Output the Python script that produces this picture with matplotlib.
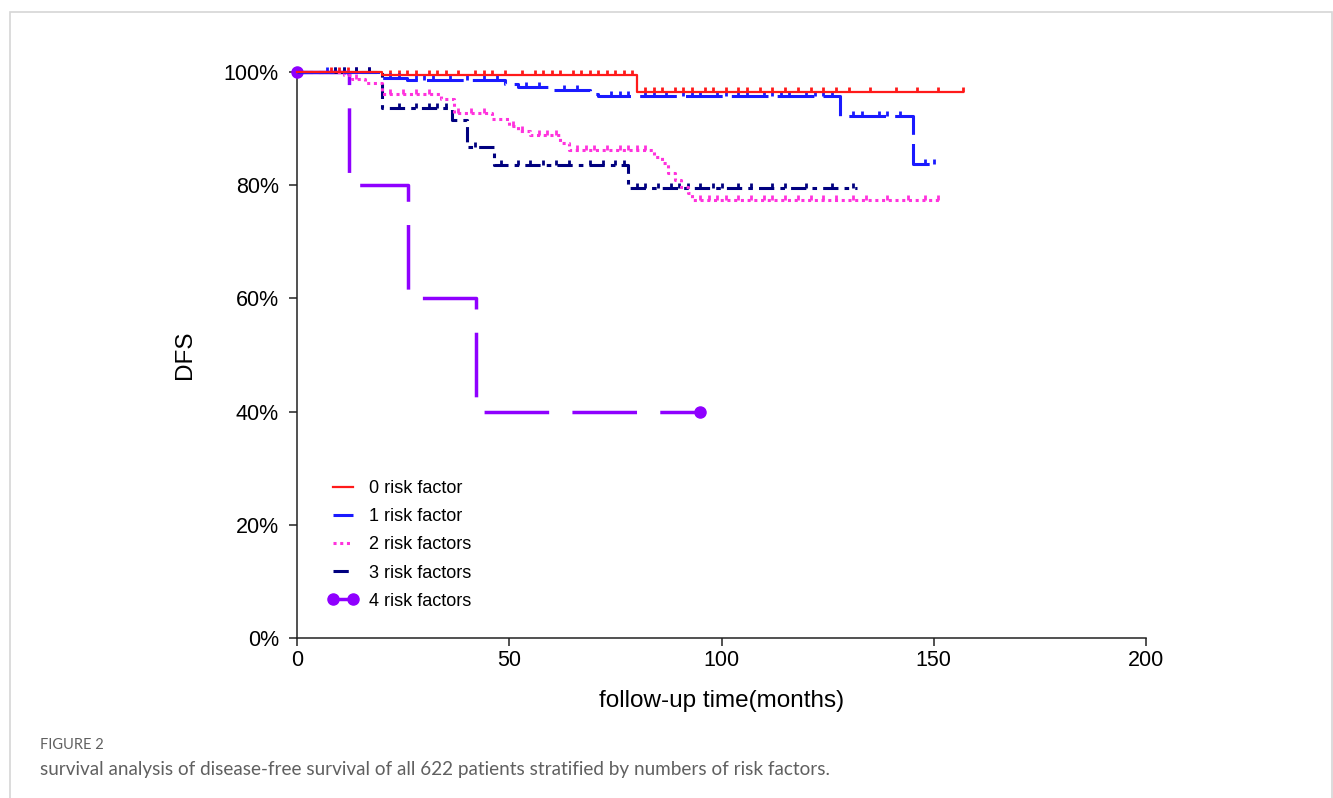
import numpy as np
import matplotlib
matplotlib.use("Agg")
import matplotlib.pyplot as plt
from matplotlib.ticker import PercentFormatter
from matplotlib.patches import Rectangle

plt.rcParams['font.family'] = ['Liberation Sans', 'DejaVu Sans']

# ---------------- data ----------------
labels = ["0 risk factor", "1 risk factor", "2 risk factors", "3 risk factors", "4 risk factors"]

t0 = [0, 20, 80]
s0 = [1.0, 0.994, 0.964]
end0 = 157
c0 = [8, 10, 12, 14, 17, 22, 24, 26, 28, 31, 33, 35, 38, 42, 44, 46, 49, 53, 56, 58, 60, 62,
      65, 67, 69, 71, 73, 75, 77, 79, 82, 84, 86, 89, 91, 93, 96, 98, 101, 104, 106, 109,
      112, 115, 118, 121, 124, 127, 130, 135, 141, 146, 151, 157]

t1 = [0, 20, 26, 49, 52, 60, 69, 71, 128, 145]
s1 = [1.0, 0.990, 0.985, 0.979, 0.973, 0.969, 0.962, 0.957, 0.922, 0.838]
end1 = 150
c1 = [7, 9, 11, 14, 17, 22, 24, 28, 30, 32, 36, 40, 44, 47, 54, 57, 63, 66, 74, 76, 78, 82,
      84, 87, 91, 93, 95, 99, 101, 104, 106, 110, 112, 114, 116, 120, 122, 124, 126, 131,
      133, 137, 139, 142, 148, 150]

t2 = [0, 11, 13, 16, 20, 34, 37, 46, 50, 52, 55, 62, 64, 84, 86, 87.5, 89, 90.5, 92, 93]
s2 = [1.0, 0.995, 0.988, 0.980, 0.962, 0.952, 0.927, 0.917, 0.905, 0.895, 0.889, 0.875,
      0.863, 0.850, 0.839, 0.822, 0.809, 0.797, 0.787, 0.774]
end2 = 151.5
c2 = [12, 14, 22, 25, 28, 31, 38, 41, 44, 51, 53, 57, 59, 61, 66, 68, 70, 73, 76, 78, 80, 82,
      95, 97, 99, 101, 104, 107, 110, 112, 115, 118, 121, 124, 127, 131, 134, 139, 144, 148, 151]

t3 = [0, 20, 36.5, 40, 46.5, 78]
s3 = [1.0, 0.936, 0.915, 0.867, 0.836, 0.795]
end3 = 132
c3 = [9, 11, 14, 17, 24, 28, 31, 33, 35, 42, 48, 52, 55, 58, 61, 64, 69, 72, 75, 77, 80, 82,
      85, 88, 90, 92, 95, 98, 100, 104, 107, 112, 115, 120, 126, 131]

t4 = [0, 12.2, 26.1, 42.2]
s4 = [1.0, 0.80, 0.60, 0.40]
end4 = 95
c4 = []

x_ticks = [0, 50, 100, 150, 200]
y_ticks = [0, 0.2, 0.4, 0.6, 0.8, 1.0]

# ---------------- styles ----------------
colors = ["#ff1a1a", "#1a1aff", "#ff33dd", "#00007f", "#8f00ff"]
styles = ["-", (0, (12, 3)), (0, (1, 1.2)), (0, (5, 2, 1.5, 2)), (0, (18.6, 6.7))]
widths = [1.6, 2.2, 2.2, 2.2, 2.5]

W, H = 1333, 798
fig = plt.figure(figsize=(W / 100, H / 100), dpi=100)
fig.patch.set_facecolor("white")

# outer light-grey border of the figure panel
fig.add_artist(Rectangle((10 / W, -0.05), (1332 - 10) / W, 1 - 12 / H + 0.05,
                         transform=fig.transFigure, fill=False, edgecolor="#d6d6d6", lw=1.2))

ax = fig.add_axes([297 / W, 1 - 638 / H, (1146 - 297) / W, (638 - 72) / H])

series = [(t0, s0, end0, c0), (t1, s1, end1, c1), (t2, s2, end2, c2),
          (t3, s3, end3, c3), (t4, s4, end4, c4)]

handles = []
for i, (t, s, end, cens) in enumerate(series):
    tt = np.array(list(t) + [end], dtype=float)
    ss = np.array(list(s) + [s[-1]], dtype=float)
    kw = {}
    if i == 4:
        kw = dict(marker="o", markersize=8, markevery=[0, len(tt) - 1],
                  markerfacecolor=colors[i], markeredgecolor=colors[i])
    ln, = ax.step(tt, ss, where="post", color=colors[i], linestyle=styles[i],
                  lw=widths[i], clip_on=False, label=labels[i], zorder=3 + (4 - i) * 0.1, **kw)
    handles.append(ln)
    if len(cens):
        cens = np.array(cens, dtype=float)
        idx = np.searchsorted(tt, cens, side="right") - 1
        cy = ss[np.clip(idx, 0, len(ss) - 1)]
        ax.plot(cens, cy, linestyle="none", marker=2, markersize=3.5,
                markeredgewidth=2.0, color=colors[i], clip_on=False, zorder=3)

ax.set_xlim(0, 200)
ax.set_ylim(0, 1.0)
ax.set_xticks(x_ticks)
ax.set_yticks(y_ticks)
ax.yaxis.set_major_formatter(PercentFormatter(1.0, decimals=0))
for sp in ["top", "right"]:
    ax.spines[sp].set_visible(False)
for sp in ["left", "bottom"]:
    ax.spines[sp].set_linewidth(1.1)
    ax.spines[sp].set_color("#222222")
ax.tick_params(direction="out", length=6, width=1.1, labelsize=15.5, colors="#222222",
               labelcolor="black")
ax.tick_params(axis="y", pad=7)
ax.tick_params(axis="x", pad=3)

ax.set_xlabel("follow-up time(months)", fontsize=17.5, labelpad=13)
ax.set_ylabel("DFS", fontsize=17.5, labelpad=20)

leg = ax.legend(handles=handles, loc="upper left",
                bbox_to_anchor=(328 / W, 1 - 480 / H), bbox_transform=fig.transFigure,
                frameon=False, fontsize=13, numpoints=2, handlelength=1.7,
                handletextpad=0.55, labelspacing=0.62, borderpad=0, borderaxespad=0)

fig.text(40 / W, 1 - 745 / H, "FIGURE 2", fontsize=10.5, color="#606060",
         family=["Lato", "DejaVu Sans"], va="center", ha="left")
fig.text(40 / W, 1 - 770 / H,
         "survival analysis of disease-free survival of all 622 patients stratified by numbers of risk factors.",
         fontsize=13.6, color="#606060", family=["Lato", "DejaVu Sans"], va="center", ha="left")

fig.savefig("out.png", dpi=100, facecolor="white")
